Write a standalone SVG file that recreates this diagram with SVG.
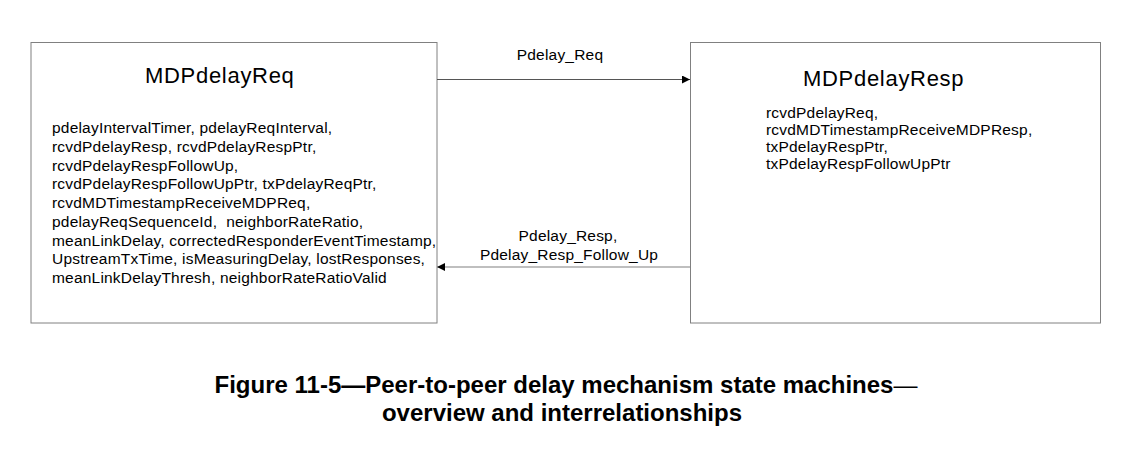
<svg xmlns="http://www.w3.org/2000/svg" width="1131" height="459" viewBox="0 0 1131 459">
<style>
.box{fill:#fff;stroke:#808080;stroke-width:1}
.title{font-family:"Liberation Sans",Arial,sans-serif;font-size:22px;letter-spacing:0.7px;fill:#000}
.body{font-family:"Liberation Sans",Arial,sans-serif;font-size:15.5px;letter-spacing:0.2px;fill:#000}
.lbl{font-family:"Liberation Sans",Arial,sans-serif;font-size:15.5px;letter-spacing:0.2px;fill:#000;text-anchor:middle}
.cap{font-family:"Liberation Sans",Arial,sans-serif;font-size:24px;font-weight:bold;fill:#000;text-anchor:middle}
</style>
<defs>
<marker id="ah" viewBox="0 0 10 10" refX="10" refY="5" markerWidth="10" markerHeight="8" markerUnits="userSpaceOnUse" orient="auto">
<path d="M0,0 L10,5 L0,10 Z" fill="#000"/>
</marker>
</defs>
<rect width="1131" height="459" fill="#fff"/>
<g id="MDPdelayReq">
<rect class="box" x="31" y="42.5" width="406" height="280.5"/>
<text class="title" x="145" y="83">MDPdelayReq</text>
<text class="body" x="52" y="133">pdelayIntervalTimer, pdelayReqInterval,</text>
<text class="body" x="52" y="151.75">rcvdPdelayResp, rcvdPdelayRespPtr,</text>
<text class="body" x="52" y="170.5">rcvdPdelayRespFollowUp,</text>
<text class="body" x="52" y="189.25">rcvdPdelayRespFollowUpPtr, txPdelayReqPtr,</text>
<text class="body" x="52" y="208">rcvdMDTimestampReceiveMDPReq,</text>
<text class="body" x="52" y="226.75" xml:space="preserve">pdelayReqSequenceId,  neighborRateRatio,</text>
<text class="body" x="52" y="245.5">meanLinkDelay, correctedResponderEventTimestamp,</text>
<text class="body" x="52" y="264.25">UpstreamTxTime, isMeasuringDelay, lostResponses,</text>
<text class="body" x="52" y="283">meanLinkDelayThresh, neighborRateRatioValid</text>
</g>
<g id="MDPdelayResp">
<rect class="box" x="690.5" y="42.5" width="410" height="280.5"/>
<text class="title" x="803" y="86">MDPdelayResp</text>
<text class="body" x="766" y="118">rcvdPdelayReq,</text>
<text class="body" x="766" y="135">rcvdMDTimestampReceiveMDPResp,</text>
<text class="body" x="766" y="152">txPdelayRespPtr,</text>
<text class="body" x="766" y="169">txPdelayRespFollowUpPtr</text>
</g>
<g id="connectors">
<line x1="437" y1="79.5" x2="690" y2="79.5" stroke="#555" stroke-width="1" marker-end="url(#ah)"/>
<line x1="690" y1="267" x2="437" y2="267" stroke="#aaa" stroke-width="1.5" marker-end="url(#ah)"/>
<text class="lbl" x="560" y="60">Pdelay_Req</text>
<text class="lbl" x="568" y="241">Pdelay_Resp,</text>
<text class="lbl" x="569" y="260">Pdelay_Resp_Follow_Up</text>
</g>
<g id="caption">
<text class="cap" x="566" y="393">Figure 11-5—Peer-to-peer delay mechanism state machines<tspan font-weight="normal">—</tspan></text>
<text class="cap" x="562" y="421">overview and interrelationships</text>
</g>
</svg>
